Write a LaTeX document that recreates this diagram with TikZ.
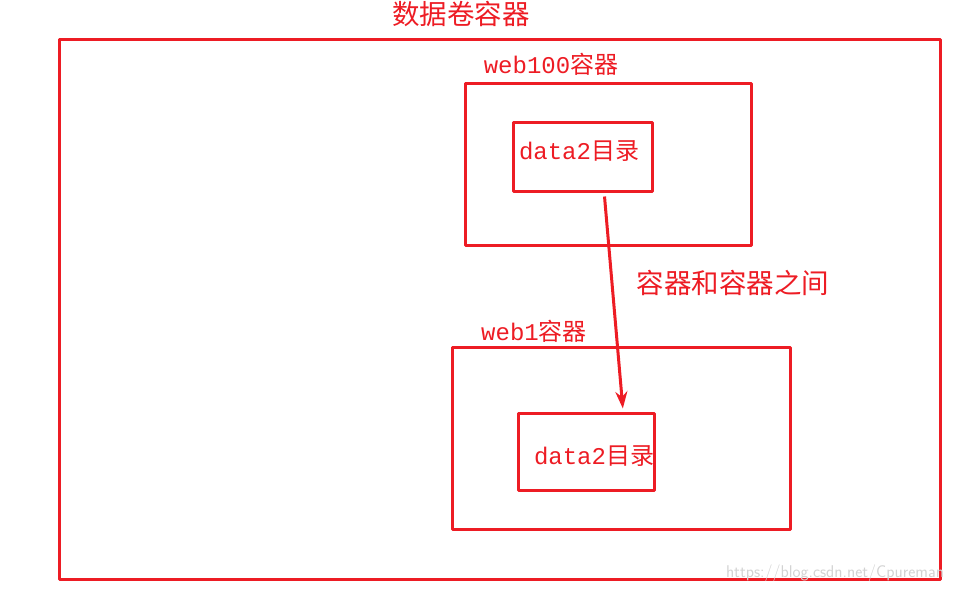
\documentclass[tikz,border=0pt]{standalone}
\usepackage{fontspec}
\setmainfont{Liberation Serif}
\setmonofont{Liberation Mono}
\newfontfamily\cjk{Noto Sans CJK SC}
\usetikzlibrary{arrows.meta,calc}
\definecolor{paintred}{HTML}{ED1C24}
\tikzset{
  box/.style={draw=paintred, line width=3pt, inner sep=0pt},
  lbl/.style={text=paintred, inner sep=0pt, font=\ttfamily\fontsize{24}{24}\selectfont},
  big/.style={lbl, font=\fontsize{27.5}{27.5}\selectfont}
}

\begin{document}
\begin{tikzpicture}[x=1pt, y=-1pt, line join=round]
      \useasboundingbox (0,0) rectangle (955,592);

      % containers
      \node[box, minimum width=881pt, minimum height=540pt] (vol) at (499.5,309) {};
      \node[box, minimum width=286pt, minimum height=162pt] (web100) at (608,164) {};
      \node[box, minimum width=139pt, minimum height=69pt] (dirA) at (582.5,156.5) {};
      \node[box, minimum width=338pt, minimum height=182pt] (web1) at (621,438) {};
      \node[box, minimum width=136pt, minimum height=77pt] (dirB) at (586,451.5) {};

      % labels
      \node[big] (volname) at (461,14) {\cjk 数据卷容器};
      \node[lbl] (web100name) at (551,64) {web100{\cjk 容器}};
      \node[lbl] (dirAname) at (579,151) {data2{\cjk 目录}};
      \node[lbl] (web1name) at (534,331) {web1{\cjk 容器}};
      \node[lbl] (dirBname) at (594,456) {data2{\cjk 目录}};
      \node[big] (between) at (733,283) {\cjk 容器和容器之间};

      \draw[paintred, line width=3pt, -{Stealth[length=17pt, width=12pt]}]
        ($(dirA.south west)!0.655!(dirA.south east) + (0,4)$) -- ($(dirB.north west)!0.765!(dirB.north east) + (0,-3)$);

      \node[text=gray!35, font=\sffamily\fontsize{17}{17}\selectfont, inner sep=0pt] (mark) at (835,573) {https://blog.csdn.net/Cpureman};
    \end{tikzpicture}
\end{document}
